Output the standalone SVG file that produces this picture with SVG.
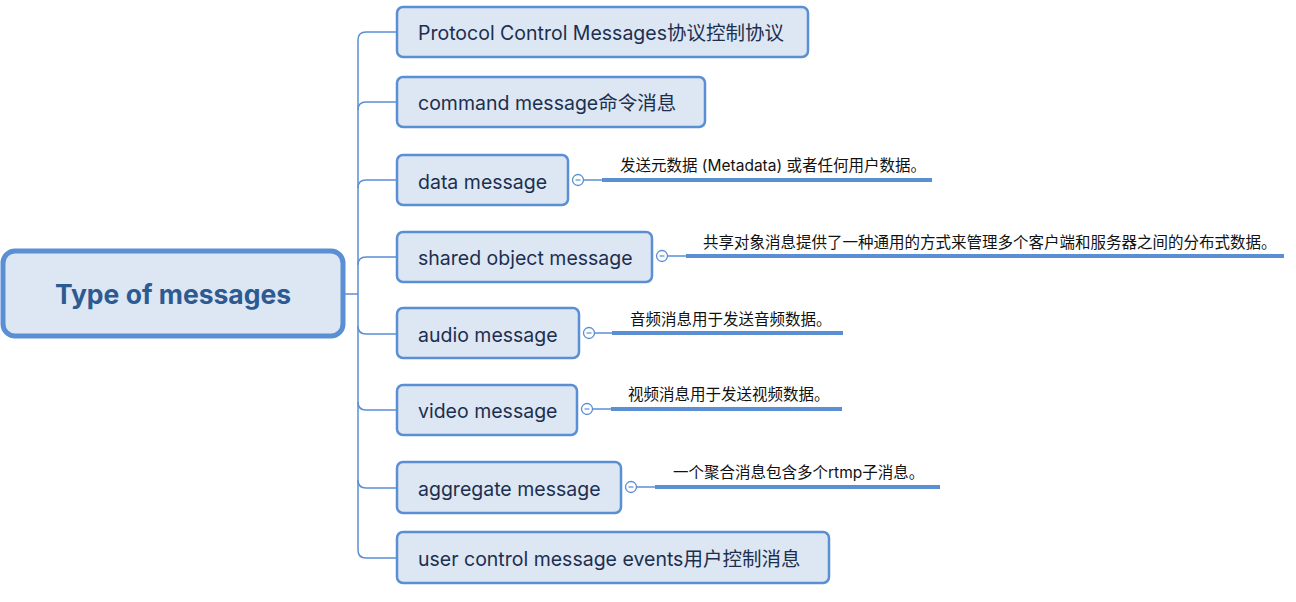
<svg xmlns="http://www.w3.org/2000/svg" width="1296" height="602" viewBox="0 0 1296 602">
<style>
.bg{fill:#ffffff}
.node rect{fill:#dde6f3;stroke:#5b8fd4;stroke-width:2.5}
.node text{font-family:Inter,"Noto Sans CJK SC",sans-serif;font-size:19.5px;fill:#1c2f4f}
.root rect{fill:#dde6f3;stroke:#5b8fd4;stroke-width:5}
.root text{font-family:Inter,"Noto Sans CJK SC",sans-serif;font-size:26.5px;font-weight:bold;fill:#2e5a92}
.conn{fill:none;stroke:#5b8fd4;stroke-width:1.5}
.thick{fill:none;stroke:#5b8fd4;stroke-width:4}
.toggle{fill:#ffffff;stroke:#5b8fd4;stroke-width:1.3}
.minus{stroke:#5b8fd4;stroke-width:1.2}
.note{font-family:Inter,"Noto Sans CJK SC",sans-serif;font-size:15.5px;fill:#111111}
</style>
<rect class="bg" x="0" y="0" width="1296" height="602"/>
<g id="connectors">
<path class="conn" d="M345 294 H358"/>
<path class="conn" d="M397 32 H366 Q358 32 358 40 V550 Q358 558 366 558 H397"/>
<path class="conn" d="M397 102 H366 Q358 102 358 110"/>
<path class="conn" d="M397 180 H366 Q358 180 358 188"/>
<path class="conn" d="M397 257 H366 Q358 257 358 265"/>
<path class="conn" d="M397 334 H366 Q358 334 358 326"/>
<path class="conn" d="M397 410 H366 Q358 410 358 402"/>
<path class="conn" d="M397 488 H366 Q358 488 358 480"/>
<path class="conn" d="M583 180 H602"/>
<path class="thick" d="M602 180 H932"/>
<path class="conn" d="M667 256 H686"/>
<path class="thick" d="M686 256 H1284"/>
<path class="conn" d="M594 333 H612"/>
<path class="thick" d="M612 333 H843"/>
<path class="conn" d="M592 409 H611"/>
<path class="thick" d="M611 409 H842"/>
<path class="conn" d="M636 487 H655"/>
<path class="thick" d="M655 487 H940"/>
</g>
<g id="root" class="root">
<rect x="3" y="251" width="340" height="85" rx="12"/>
<text x="173" y="304" text-anchor="middle">Type of messages</text>
</g>
<g id="n1" class="node"><rect x="397" y="7" width="411" height="50" rx="6"/><text x="418" y="40">Protocol Control Messages协议控制协议</text></g>
<g id="n2" class="node"><rect x="397" y="77" width="308" height="50" rx="6"/><text x="418" y="110">command message命令消息</text></g>
<g id="n3" class="node"><rect x="397" y="155" width="171" height="50" rx="6"/><text x="418" y="189">data message</text></g>
<g id="n4" class="node"><rect x="397" y="232" width="255" height="50" rx="6"/><text x="418" y="265">shared object message</text></g>
<g id="n5" class="node"><rect x="397" y="308" width="182" height="50" rx="6"/><text x="418" y="342">audio message</text></g>
<g id="n6" class="node"><rect x="397" y="385" width="180" height="50" rx="6"/><text x="418" y="418">video message</text></g>
<g id="n7" class="node"><rect x="397" y="462" width="224" height="51" rx="6"/><text x="418" y="496">aggregate message</text></g>
<g id="n8" class="node"><rect x="397" y="532" width="432" height="51" rx="6"/><text x="418" y="566">user control message events用户控制消息</text></g>
<g id="t3"><circle class="toggle" cx="578" cy="180" r="5.5"/><path class="minus" d="M575.5 180 H580.5"/></g>
<g id="t4"><circle class="toggle" cx="662" cy="256" r="5.5"/><path class="minus" d="M659.5 256 H664.5"/></g>
<g id="t5"><circle class="toggle" cx="589" cy="333" r="5.5"/><path class="minus" d="M586.5 333 H591.5"/></g>
<g id="t6"><circle class="toggle" cx="587" cy="409" r="5.5"/><path class="minus" d="M584.5 409 H589.5"/></g>
<g id="t7"><circle class="toggle" cx="631" cy="487" r="5.5"/><path class="minus" d="M628.5 487 H633.5"/></g>
<g id="note3"><text class="note" x="620" y="171">发送元数据 (Metadata) 或者任何用户数据。</text></g>
<g id="note4"><text class="note" x="703" y="248">共享对象消息提供了一种通用的方式来管理多个客户端和服务器之间的分布式数据。</text></g>
<g id="note5"><text class="note" x="630" y="325">音频消息用于发送音频数据。</text></g>
<g id="note6"><text class="note" x="628" y="400">视频消息用于发送视频数据。</text></g>
<g id="note7"><text class="note" x="673" y="478">一个聚合消息包含多个rtmp子消息。</text></g>
</svg>
